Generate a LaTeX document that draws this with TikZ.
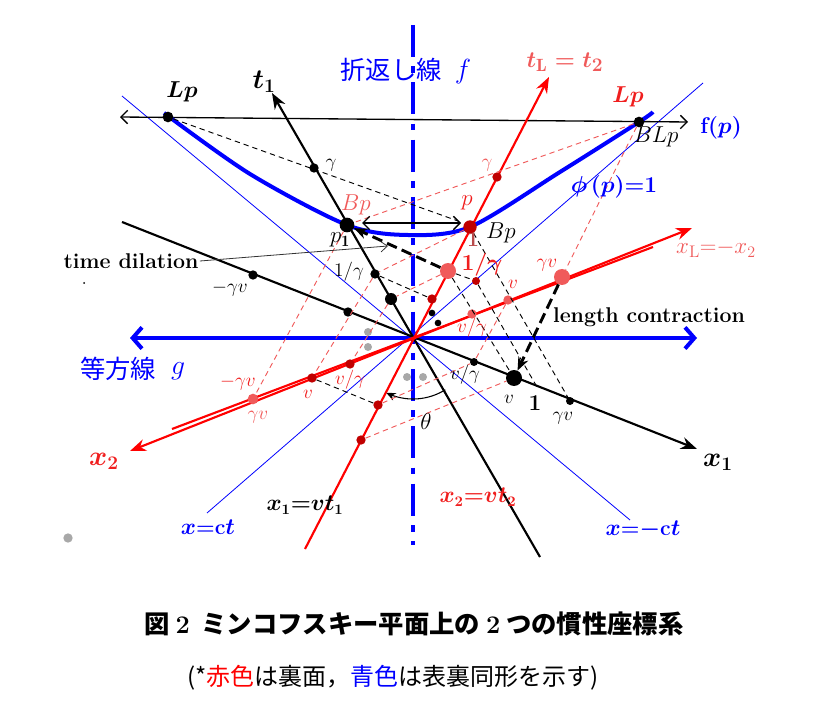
\documentclass[tikz,border=0pt]{standalone}
\usepackage{fontspec}
\usepackage{amsmath}
\usepackage{bm}
\usepackage{tikz}
\usetikzlibrary{arrows.meta,positioning}
\newfontfamily\jpfont{Noto Sans CJK JP}
\definecolor{axisred}{HTML}{FF0000}
\definecolor{dotred}{HTML}{C00000}
\definecolor{salmon}{HTML}{F05A5A}
\definecolor{lblred}{HTML}{F01E1E}
\definecolor{onebrown}{HTML}{B84A4A}
\definecolor{isoblue}{HTML}{0000FF}
\definecolor{dotgray}{HTML}{A8A8A8}
\tikzset{
  blkaxis/.style={line width=1.6pt, draw=black, -{Stealth[length=12pt,width=9pt]}},
  redaxis/.style={line width=1.6pt, draw=axisred, -{Stealth[length=12pt,width=9pt]}},
  lightline/.style={draw=isoblue, line width=0.6pt},
  foldline/.style={draw=isoblue, line width=3pt, dash pattern=on 24pt off 7pt on 5pt off 7pt},
  isoline/.style={draw=isoblue, line width=3pt,
    {Straight Barb[length=7pt,width=16pt]}-{Straight Barb[length=7pt,width=16pt]}},
  fpline/.style={draw=black, line width=1pt,
    {Straight Barb[length=5pt,width=10pt]}-{Straight Barb[length=5pt,width=10pt]}},
  phicurve/.style={draw=isoblue, line width=3pt},
  ptdot/.style={circle, fill=#1, inner sep=0pt, minimum size=8pt},
  ptdot/.default=black,
  bigdot/.style={circle, fill=#1, inner sep=0pt, minimum size=11pt},
  bigdot/.default=black,
  smalldot/.style={circle, fill=#1, inner sep=0pt, minimum size=5pt},
  smalldot/.default=black,
  blkdash/.style={draw=black, line width=0.7pt, dash pattern=on 4pt off 3pt},
  reddash/.style={draw=salmon, line width=0.7pt, dash pattern=on 4pt off 3pt},
  thickdash/.style={draw=black, line width=2.2pt, dash pattern=on 8pt off 4pt,
    -{Stealth[length=10pt,width=8pt]}},
  pointer/.style={draw=black!80, line width=0.6pt, -{Straight Barb[length=5pt,width=8pt]}},
  lbl/.style={font=\fontsize{15}{17}\selectfont, inner sep=1pt},
  axislbl/.style={font=\fontsize{20}{22}\selectfont\boldmath, inner sep=1pt},
  notelbl/.style={font=\fontsize{16}{18}\selectfont\bfseries, inner sep=1pt},
  jplbl/.style={font=\fontsize{19}{21}\selectfont\jpfont, text=isoblue, inner sep=1pt},
}

\begin{document}
\begin{tikzpicture}[x=0.75pt, y=-0.75pt]
\useasboundingbox (0,0) rectangle (814,702);

% end points of the lines
\coordinate (O) at (413,338);
\coordinate (ctA) at (122,96);   \coordinate (ctB) at (630,520);
\coordinate (ctC) at (703,83);   \coordinate (ctD) at (207,513);
\coordinate (fTop) at (413,25);  \coordinate (fBot) at (413,545);
\coordinate (gL) at (130,338);   \coordinate (gR) at (697,338);
\coordinate (fpL) at (120,117);  \coordinate (fpR) at (688,122);
\coordinate (t1a) at (540,557);  \coordinate (t1b) at (272,93);
\coordinate (x1a) at (122,222);  \coordinate (x1b) at (697,449);
\coordinate (t2a) at (305,549);  \coordinate (t2b) at (549,77);
\coordinate (x2a) at (130,451);  \coordinate (x2b) at (692,228);
\coordinate (xLa) at (172,429);  \coordinate (xLb) at (653,247);

% blue lines
\draw[lightline] (ctA) -- (ctB);
\draw[lightline] (ctC) -- (ctD);
\draw[foldline] (fTop) -- (fBot);
\draw[isoline] (gL) -- (gR);
\draw[fpline] (fpL) -- (fpR);

% axes
\draw[blkaxis] (t1a) -- (t1b);
\draw[blkaxis] (x1a) -- (x1b);
\draw[redaxis] (t2a) -- (t2b);
\draw[redaxis, {Stealth[length=12pt,width=9pt]}-{Stealth[length=12pt,width=9pt]}] (x2a) -- (x2b);
\draw[line width=1.6pt, axisred] (xLa) -- (xLb);

% phi(p)=1
\draw[phicurve] plot[smooth] coordinates {(164,113) (250,174) (347,225) (408,235)
  (470,227) (560,172) (639,122) (653,112)};

% theta
\draw[line width=0.8pt, -{Stealth[length=7pt,width=6pt]}]
  plot[domain=58:116, samples=30] ({413+61*cos(\x)},{338+61*sin(\x)});

% black points
\node[ptdot] (Lp) at (168,117) {};
\node[ptdot] (BLp) at (639,122) {};
\node[ptdot, minimum size=7pt] (gT1) at (314,168) {};
\node[bigdot] (p1) at (347,225) {};
\node[ptdot, minimum size=7pt] (t1g) at (375,274) {};
\node[ptdot, minimum size=9pt] (t1d) at (391,299) {};
\node[ptdot, minimum size=7pt] (x1L1) at (253,275) {};
\node[ptdot, minimum size=7pt] (x1L2) at (348,312) {};
\node[smalldot] (sm1) at (432,313) {};
\node[smalldot] (sm2) at (438,323) {};
\node[smalldot, minimum size=6pt] (x1vg) at (474,362) {};
\node[bigdot, minimum size=12pt] (x1v) at (514,378) {};
\node[smalldot, minimum size=6pt] (x1gv) at (570,401) {};
\coordinate (x1one) at (537,387);

% red points
\node[bigdot=dotred, minimum size=10pt] (p) at (470,227) {};
\node[ptdot=dotred, minimum size=7pt] (gT2) at (497,177) {};
\node[bigdot=salmon, minimum size=12pt] (t2g) at (448,271) {};
\node[smalldot=dotred, minimum size=6pt] (t2s) at (476,281) {};
\node[ptdot=dotred, minimum size=7pt] (t2d) at (432,299) {};
\node[ptdot=dotred, minimum size=7pt] (t2n1) at (378,405) {};
\node[ptdot=dotred, minimum size=7pt] (t2n2) at (361,440) {};
\node[ptdot=salmon, minimum size=7pt] (x2vg) at (472,314) {};
\node[ptdot=salmon, minimum size=7pt] (x2v) at (508,300) {};
\node[bigdot=salmon, minimum size=12pt] (x2gv) at (562,277) {};
\node[ptdot=dotred, minimum size=7pt] (x2Lvg) at (350,364) {};
\node[ptdot=dotred, minimum size=7pt] (x2Lv) at (312,378) {};
\node[ptdot=salmon, minimum size=8pt] (x2Lgv) at (253,399) {};

% gray points
\node[smalldot=dotgray, minimum size=6pt] (gr1) at (368,332) {};
\node[smalldot=dotgray, minimum size=6pt] (gr2) at (368,347) {};
\node[smalldot=dotgray, minimum size=6pt] (gr3) at (407,377) {};
\node[smalldot=dotgray, minimum size=6pt] (gr4) at (423,377) {};
\node[smalldot=dotgray, minimum size=7pt] (gr5) at (68,538) {};
\node[smalldot, minimum size=1.5pt] (speck) at (84,283) {};

% black dashed
\coordinate (bpArrow) at (458,221);
\draw[blkdash] (Lp) -- (bpArrow);
\draw[blkdash] (t1g) -- (t2d);
\draw[blkdash] (t2g) -- (x1v);
\draw[blkdash] (p) -- (x1gv);
\draw[blkdash] (t2s) -- (x1one);
\draw[blkdash] (t2g) -- (t2s);
\draw[blkdash] (x2Lv) -- (t2n1);

% red dashed
\draw[reddash] (BLp) -- (p1);
\draw[reddash] (BLp) -- (x2gv);
\draw[reddash] (p) -- (t1g);
\draw[reddash] (t2g) -- (t1d);
\draw[reddash] (p1) -- (x2Lgv);
\draw[reddash] (t1g) -- (x2Lv);
\draw[reddash] (t1d) -- (x2Lvg);
\draw[reddash] (t2n1) -- (x1vg);
\draw[reddash] (t2n2) -- (x1v);
\draw[reddash] (x2v) -- (x1vg);

% Bp <-> p1
\coordinate (bL) at (362,223);
\coordinate (bR) at (461,223);
\draw[fpline] (bL) -- (bR);

% time dilation / length contraction
\draw[thickdash] (t2g) -- (p1);
\draw[thickdash] (x2gv) -- (x1v);
\node[notelbl] (tdil) at (131,261) {time dilation};
\coordinate (tdTip) at (388,246);
\draw[pointer] (tdil.east) -- (tdTip);
\node[notelbl] (lcon) at (649,317) {length contraction};

% black labels
\node[axislbl] (t1lbl) at (264,82) {$t_1$};
\node[axislbl] (x1lbl) at (718,462) {$x_1$};
\node[lbl, font=\fontsize{17}{19}\selectfont\boldmath] (Lplbl) at (182,92) {$Lp$};
\node[lbl] (gT1lbl) at (331,165) {$\gamma$};
\node[lbl, font=\fontsize{17}{19}\selectfont] (p1lbl) at (340,240) {$p_{\mathbf{1}}$};
\node[lbl] (t1glbl) at (349,272) {$1/\gamma$};
\node[lbl] (x1L1lbl) at (230,289) {$-\gamma v$};
\node[lbl] (x1vglbl) at (465,375) {$v/\gamma$};
\node[lbl] (x1vlbl) at (509,399) {$v$};
\node[lbl, font=\fontsize{17}{19}\selectfont\bfseries] (x1onelbl) at (535,403) {1};
\node[lbl] (x1gvlbl) at (563,418) {$\gamma v$};
\node[lbl, font=\fontsize{17}{19}\selectfont] (BLplbl) at (656,137) {$BLp$};
\node[lbl, font=\fontsize{17}{19}\selectfont] (Bplbl) at (501,233) {$Bp$};
\node[lbl, font=\fontsize{19}{21}\selectfont] (thetalbl) at (426,421) {$\theta$};
\node[lbl, font=\fontsize{16}{18}\selectfont\boldmath] (x1eq) at (305,505) {$x_1{=}vt_1$};

% red labels
\node[axislbl, text=lblred] (x2lbl) at (104,461) {$x_2$};
\node[axislbl, font=\fontsize{19}{21}\selectfont\boldmath, text=salmon] (t2lbl) at (565,62) {$t_{\mathrm{L}} = t_2$};
\node[lbl, font=\fontsize{18}{20}\selectfont, text=salmon] (xLlbl) at (716,249) {$x_{\mathrm{L}}{=}{-}x_2$};
\node[lbl, font=\fontsize{17}{19}\selectfont\boldmath, text=lblred] (Lp2lbl) at (628,97) {$Lp$};
\node[lbl, text=salmon] (gT2lbl) at (487,165) {$\gamma$};
\node[lbl, font=\fontsize{17}{19}\selectfont, text=lblred] (plbl) at (467,203) {$p$};
\node[lbl, font=\fontsize{16}{18}\selectfont\bfseries, text=onebrown] (onelbl) at (473,240) {1};
\node[lbl, font=\fontsize{16}{18}\selectfont\boldmath, text=lblred] (t2glbl) at (482,265) {$1/\gamma$};
\node[lbl, font=\fontsize{17}{19}\selectfont, text=salmon] (Bp2lbl) at (356,205) {$Bp$};
\node[lbl, text=lblred] (x2vlbl) at (513,284) {$v$};
\node[lbl, text=lblred] (x2vglbl) at (472,328) {$v/\gamma$};
\node[lbl, text=lblred] (x2gvlbl) at (547,265) {$\gamma v$};
\node[lbl, text=lblred] (x2Lvglbl) at (350,380) {$v/\gamma$};
\node[lbl, text=lblred] (x2Lvlbl) at (308,394) {$v$};
\node[lbl, text=lblred] (x2Lgvlbl) at (238,383) {$-\gamma v$};
\node[lbl, text=salmon] (x2Lgv2lbl) at (258,417) {$\gamma v$};
\node[lbl, font=\fontsize{16}{18}\selectfont\boldmath, text=lblred] (x2eq) at (478,497) {$x_2{=}vt_2$};

% blue labels
\node[jplbl] (foldlbl) at (391,70) {折返し線};
\node[lbl, font=\fontsize{20}{22}\selectfont, text=isoblue] (flbl) at (463,72) {$f$};
\node[jplbl] (isolbl) at (118,369) {等方線};
\node[lbl, font=\fontsize{20}{22}\selectfont, text=isoblue] (glbl) at (178,371) {$g$};
\node[lbl, font=\fontsize{17}{19}\selectfont\bfseries, text=isoblue] (fplbl) at (721,128) {f($\bm{p}$)};
\node[lbl, font=\fontsize{17}{19}\selectfont\bfseries, text=isoblue] (philbl) at (614,187) {$\bm{\phi}$\,($\bm{p}$)=1};
\node[lbl, font=\fontsize{16}{18}\selectfont\bfseries, text=isoblue] (ctlbl) at (208,527) {$\bm{x}$=c$\bm{t}$};
\node[lbl, font=\fontsize{16}{18}\selectfont\bfseries, text=isoblue] (mctlbl) at (643,530) {$\bm{x}$=$\bm{-}$c$\bm{t}$};

% caption
\node[font=\fontsize{19}{22}\selectfont\jpfont\bfseries] (cap) at (414,624)
  {図 {\normalfont\bfseries 2}\ \ ミンコフスキー平面上の {\normalfont\bfseries 2} つの慣性座標系};
\node[font=\fontsize{18}{20}\selectfont\jpfont] (note) at (393,678)
  {(*{\color{red}赤色}は裏面，{\color{blue}青色}は表裏同形を示す)};

\end{tikzpicture}
\end{document}
